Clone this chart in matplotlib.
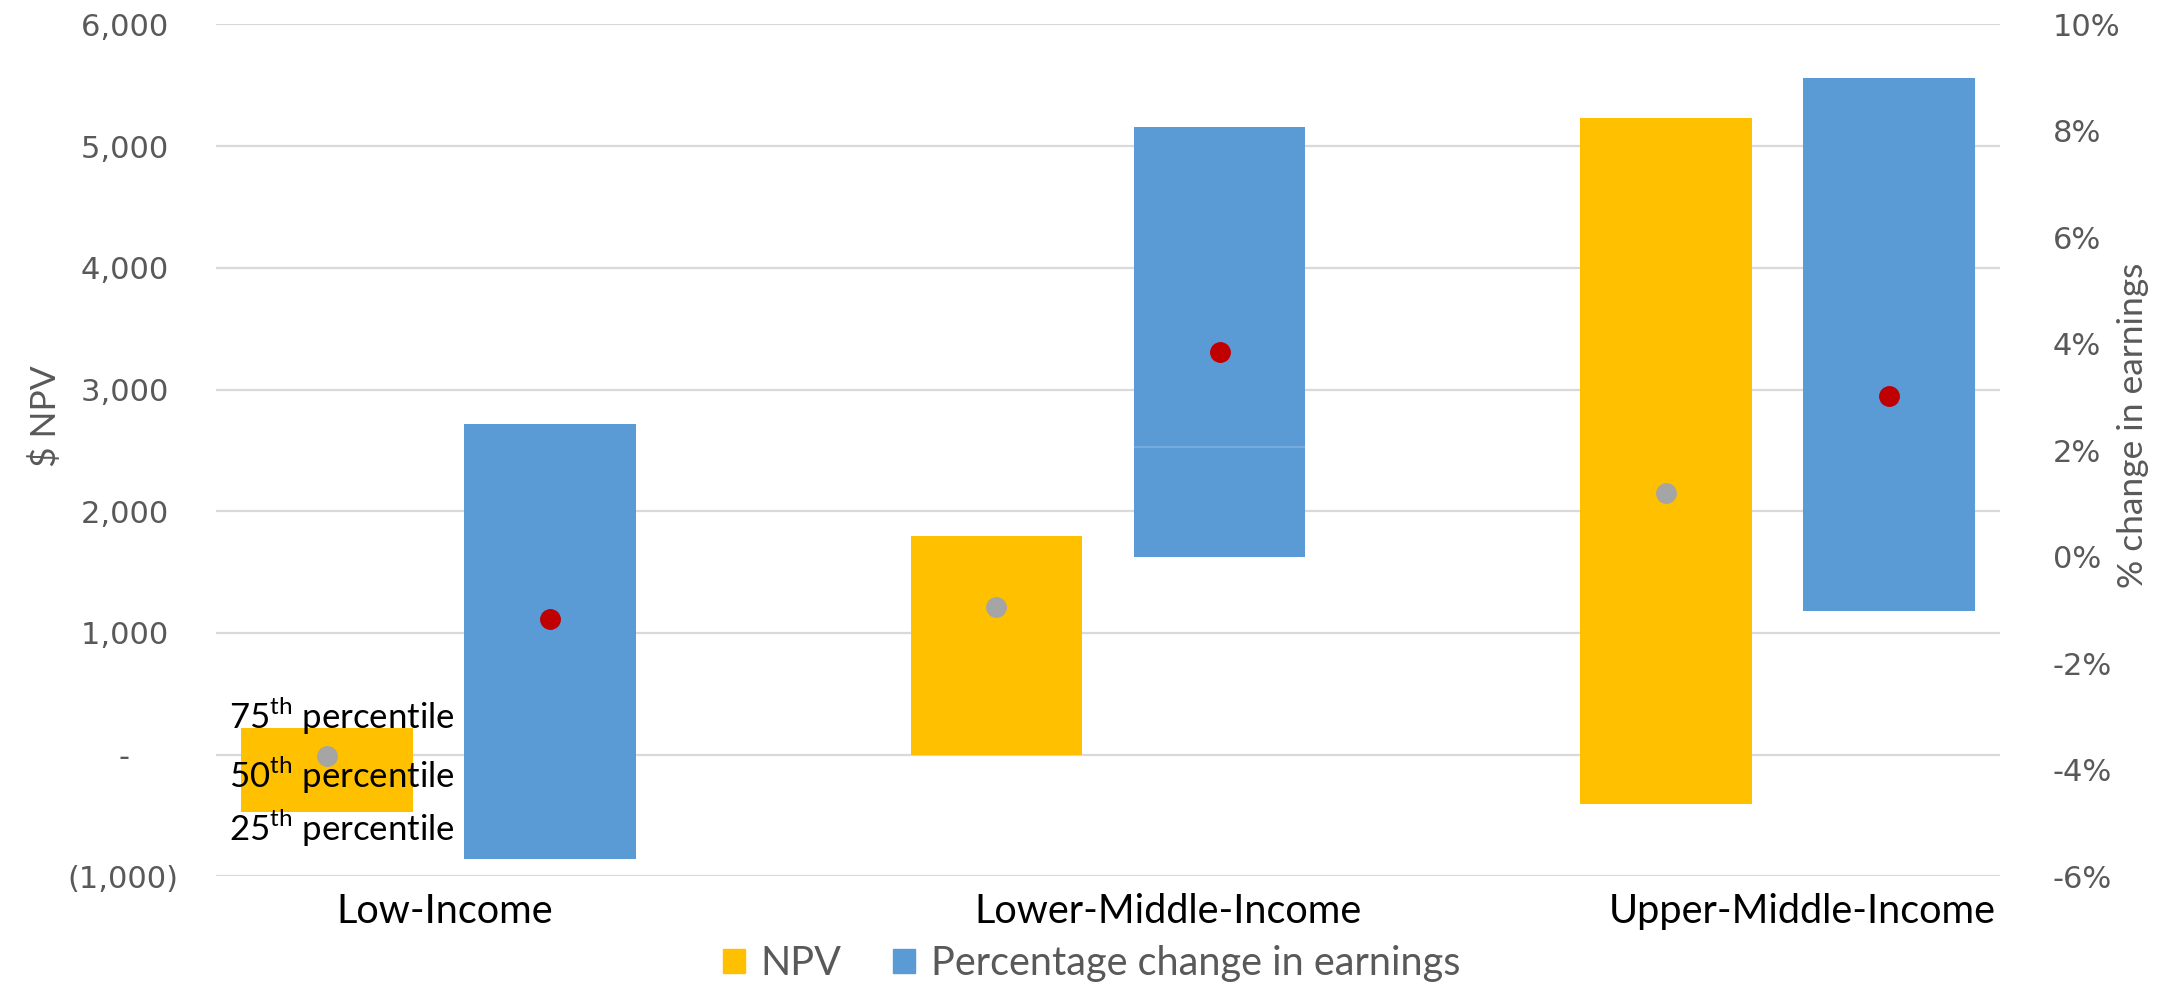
import numpy as np
import matplotlib
matplotlib.use("Agg")
import matplotlib.pyplot as plt
from matplotlib.patches import Patch
from matplotlib.ticker import FuncFormatter

plt.rcParams['font.family'] = ['Lato', 'DejaVu Sans']
plt.rcParams['mathtext.fontset'] = 'custom'
plt.rcParams['mathtext.rm'] = 'Lato'

# data
categories = ["Low-Income", "Lower-Middle-Income", "Upper-Middle-Income"]
npv_p25 = [-468, 0, -408]
npv_p50 = [-10, 1211, 2147]
npv_p75 = [217, 1799, 5230]
earn_p25 = [-5.68, 0.0, -1.02]
earn_p50 = [-1.17, 3.84, 3.02]
earn_p75 = [2.50, 8.07, 8.99]
earn_split = [np.nan, 2.07, np.nan]   # visible segment boundary in the blue bar
left_ticks = [-1000, 0, 1000, 2000, 3000, 4000, 5000, 6000]
right_ticks = [-6, -4, -2, 0, 2, 4, 6, 8, 10]
pct_labels = ["75$^{\\mathrm{th}}$ percentile", "50$^{\\mathrm{th}}$ percentile",
              "25$^{\\mathrm{th}}$ percentile"]
pct_label_y = [318, -166, -602]
label_shift = [0.008, 0.089, 0.037]   # category labels sit a bit right of centre

yellow = "#FFC000"
blue = "#5B9BD5"
grey_txt = "#595959"

fig = plt.figure(figsize=(21.7, 9.85), dpi=100)
ax = fig.add_axes([0.0995, 0.1102, 0.8222, 0.8651])
ax2 = ax.twinx()

x = np.arange(len(categories))
w = 0.257
off = 1 / 6

ax.set_xlim(-1 / 3, 2 + 1 / 3)
ax.set_ylim(-1000, 6000)
ax2.set_ylim(-6, 10)

lo = np.array(npv_p25)
hi = np.array(npv_p75)
ax.bar(x - off, hi - lo, bottom=lo, width=w, color=yellow, zorder=2)
ax.plot(x - off, npv_p50, 'o', color="#A5A5A5", markersize=14, zorder=3)

for lab, yv in zip(pct_labels, pct_label_y):
    ax.text(x[0] - off + 0.022, yv, lab, ha='center', va='center',
            fontsize=25, color='black', zorder=5)

elo = np.array(earn_p25)
ehi = np.array(earn_p75)
ax2.bar(x + off, ehi - elo, bottom=elo, width=w, color=blue, zorder=2)
split = np.array(earn_split)
ok = ~np.isnan(split)
ax2.hlines(split[ok], (x + off - w / 2)[ok], (x + off + w / 2)[ok],
           color="#7DAFDD", linewidth=1.2, zorder=3)
ax2.plot(x + off, earn_p50, 'o', color="#C00000", markersize=14, zorder=4)

ax.set_yticks(left_ticks)
ax2.set_yticks(right_ticks)


def npv_fmt(v, pos):
    if v == 0:
        return "-     "
    if v < 0:
        return "({:,.0f})".format(-v)
    return "{:,.0f} ".format(v)


ax.yaxis.set_major_formatter(FuncFormatter(npv_fmt))
ax2.yaxis.set_major_formatter(FuncFormatter(lambda v, p: "{:.0f}%".format(v)))

ax.set_xticks(x + np.array(label_shift))
ax.set_xticklabels(categories, fontsize=28.5, color='black')
ax.tick_params(axis='x', length=0, pad=12)
ax.tick_params(axis='y', length=0, pad=27, labelsize=22, labelcolor=grey_txt)
ax2.tick_params(axis='y', length=0, pad=38, labelsize=22, labelcolor=grey_txt)
for t in ax.get_yticklabels() + ax2.get_yticklabels():
    t.set_family('DejaVu Sans')

ax.grid(axis='y', color="#D9D9D9", linewidth=1.6)
ax.set_axisbelow(True)
for a in (ax, ax2):
    for s in a.spines.values():
        s.set_visible(False)

narrow = ['Liberation Sans Narrow', 'Lato']
ax.set_ylabel("$ NPV", fontsize=25.5, color=grey_txt, family=narrow)
ax.yaxis.set_label_coords(-0.0863, 0.54)
ax2.set_ylabel("% change in earnings", fontsize=25.5, color=grey_txt, family=narrow)
ax2.yaxis.set_label_coords(1.0656, 0.53)

handles = [Patch(color=yellow, label="NPV"),
           Patch(color=blue, label="Percentage change in earnings")]
fig.legend(handles=handles, loc='center', bbox_to_anchor=(0.503, 0.022), ncol=2,
           frameon=False, labelcolor=grey_txt,
           handlelength=0.55, handleheight=0.55, handletextpad=0.4, columnspacing=1.3,
           prop={'family': narrow, 'size': 28.5})

fig.savefig("out.png", dpi=100)
